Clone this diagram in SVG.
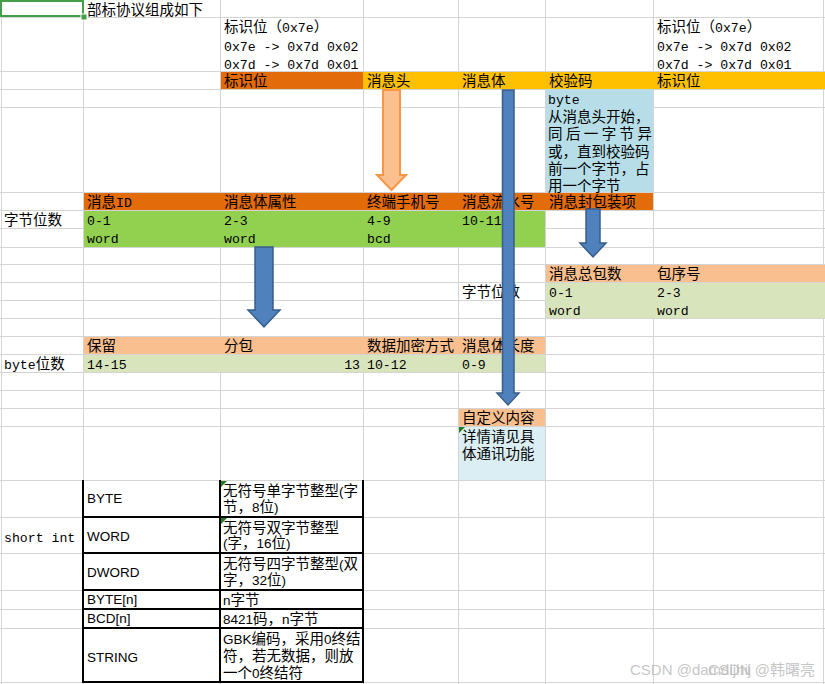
<svg xmlns="http://www.w3.org/2000/svg" width="825" height="684" viewBox="0 0 825 684">
<style>
.g{stroke:#D4D4D4;stroke-width:1;fill:none}
.c{font-family:"Noto Sans CJK SC","Liberation Sans",sans-serif;font-size:14.5px;fill:#000}
.m{font-family:"Liberation Mono","Noto Sans CJK SC",monospace;font-size:13.2px;fill:#000}
.a{font-family:"Liberation Sans","Noto Sans CJK SC",sans-serif;font-size:13.5px;fill:#000}
.b{stroke:#000;stroke-width:2;fill:none}
.ba{fill:#4F81BD;stroke:#385D8A;stroke-width:1.5}
.oa{fill:#FAC090;stroke:#F79646;stroke-width:2}
.mk{fill:#1E7B1E}
.wm{font-family:"Liberation Sans","Noto Sans CJK SC",sans-serif;font-size:15px;fill:#BBBBBB;fill-opacity:0.85}
</style>
<rect x="0" y="0" width="825" height="684" fill="#FFFFFF"/>
<g id="grid">
<path class="g" d="M1.5,0V684M83.5,0V684M220.5,0V684M363.5,0V684M458.5,0V684M545.5,0V684M653.5,0V684M823.5,0V684"/>
<path class="g" d="M0,17.5H825M0,71.5H825M0,89.5H825M0,107.5H825M0,192.5H825M0,210.5H825M0,228.5H825M0,247.5H825M0,264.5H825M0,282.5H825M0,300.5H825M0,318.5H825M0,336.5H825M0,354.5H825M0,372.5H825M0,390.5H825M0,408.5H825M0,426.5H825M0,480.5H825M0,517.5H825M0,553.5H825M0,590.5H825M0,609.5H825M0,628.5H825M0,682.5H825"/>
</g>
<g id="selection">
<rect x="1" y="1" width="82" height="15" fill="none" stroke="#43A047" stroke-width="2"/>
<rect x="81" y="14" width="6" height="6" fill="#43A047" stroke="#FFFFFF" stroke-width="1"/>
</g>
<g id="title"><text class="c" x="87" y="15">部标协议组成如下</text></g>
<g id="flag-note-left">
<text class="c" x="224" y="32">标识位（<tspan class="m">0x7e</tspan>）</text>
<text class="m" x="224" y="51">0x7e -&gt; 0x7d 0x02</text>
<text class="m" x="224" y="69">0x7d -&gt; 0x7d 0x01</text>
</g>
<g id="flag-note-right">
<text class="c" x="657" y="32">标识位（<tspan class="m">0x7e</tspan>）</text>
<text class="m" x="657" y="51">0x7e -&gt; 0x7d 0x02</text>
<text class="m" x="657" y="69">0x7d -&gt; 0x7d 0x01</text>
</g>
<g id="frame-row">
<rect x="221" y="72" width="142" height="17" fill="#E26B0A"/>
<rect x="363" y="72" width="462" height="17" fill="#FFC000"/>
<text class="c" x="224" y="86">标识位</text>
<text class="c" x="367" y="86">消息头</text>
<text class="c" x="462" y="86">消息体</text>
<text class="c" x="549" y="86">校验码</text>
<text class="c" x="657" y="86">标识位</text>
</g>
<g id="checksum-note">
<rect x="546" y="89" width="107" height="103" fill="#B7DEE8"/>
<text class="m" x="548" y="104">byte</text>
<text class="c" x="548" y="122">从消息头开始，</text>
<text class="c" x="548" y="139" textLength="104" lengthAdjust="spacing">同后一字节异</text>
<text class="c" x="548" y="157">或，直到校验码</text>
<text class="c" x="548" y="174">前一个字节，占</text>
<text class="c" x="548" y="191">用一个字节</text>
</g>
<g id="header-fields">
<rect x="84" y="193" width="569" height="17" fill="#E26B0A"/>
<rect x="84" y="211" width="461" height="36" fill="#92D050"/>
<text class="c" x="87" y="207">消息<tspan class="m">ID</tspan></text>
<text class="c" x="224" y="207">消息体属性</text>
<text class="c" x="367" y="207">终端手机号</text>
<text class="c" x="462" y="207">消息流水号</text>
<text class="c" x="549" y="207">消息封包装项</text>
<text class="c" x="4" y="225">字节位数</text>
<text class="m" x="87" y="225">0-1</text>
<text class="m" x="224" y="225">2-3</text>
<text class="m" x="367" y="225">4-9</text>
<text class="m" x="462" y="225">10-11</text>
<text class="m" x="87" y="243">word</text>
<text class="m" x="224" y="243">word</text>
<text class="m" x="367" y="243">bcd</text>
</g>
<g id="package-fields">
<rect x="546" y="265" width="279" height="17" fill="#FABF8F"/>
<rect x="546" y="283" width="279" height="35" fill="#D8E4BC"/>
<text class="c" x="549" y="279">消息总包数</text>
<text class="c" x="657" y="279">包序号</text>
<text class="c" x="462" y="297">字节位数</text>
<text class="m" x="549" y="297">0-1</text>
<text class="m" x="657" y="297">2-3</text>
<text class="m" x="549" y="315">word</text>
<text class="m" x="657" y="315">word</text>
</g>
<g id="body-attr-fields">
<rect x="84" y="337" width="461" height="17" fill="#FABF8F"/>
<rect x="84" y="355" width="461" height="17" fill="#D8E4BC"/>
<text class="c" x="87" y="351">保留</text>
<text class="c" x="224" y="351">分包</text>
<text class="c" x="367" y="351">数据加密方式</text>
<text class="c" x="462" y="351">消息体长度</text>
<text class="c" x="4" y="369"><tspan class="m">byte</tspan>位数</text>
<text class="m" x="87" y="369">14-15</text>
<text class="m" x="360" y="369" text-anchor="end">13</text>
<text class="m" x="367" y="369">10-12</text>
<text class="m" x="462" y="369">0-9</text>
</g>
<g id="custom-content">
<rect x="459" y="409" width="86" height="17" fill="#FABF8F"/>
<rect x="459" y="427" width="86" height="53" fill="#DAEEF3"/>
<polygon class="mk" points="459,427 465,427 459,433"/>
<text class="c" x="462" y="423">自定义内容</text>
<text class="c" x="462" y="442">详情请见具</text>
<text class="c" x="462" y="459">体通讯功能</text>
</g>
<g id="type-table">
<polygon class="mk" points="221,481 227,481 221,487"/>
<polygon class="mk" points="221,518 227,518 221,524"/>
<path class="b" d="M83,480V683M220,480V683M363,480V683M82,517H364M82,553H364M82,590H364M82,609H364M82,628H364M82,682H364"/>
<text class="m" x="4" y="542">short int</text>
<text class="a" x="87" y="503">BYTE</text>
<text class="a" x="87" y="541">WORD</text>
<text class="a" x="87" y="577">DWORD</text>
<text class="a" x="87" y="604">BYTE[n]</text>
<text class="a" x="87" y="623">BCD[n]</text>
<text class="a" x="87" y="662">STRING</text>
<text class="c" x="223" y="496">无符号单字节整型<tspan class="a">(</tspan>字</text>
<text class="c" x="223" y="512">节，<tspan class="a">8</tspan>位<tspan class="a">)</tspan></text>
<text class="c" x="223" y="533">无符号双字节整型</text>
<text class="c" x="223" y="548"><tspan class="a">(</tspan>字，<tspan class="a">16</tspan>位<tspan class="a">)</tspan></text>
<text class="c" x="223" y="569">无符号四字节整型<tspan class="a">(</tspan>双</text>
<text class="c" x="223" y="585">字，<tspan class="a">32</tspan>位<tspan class="a">)</tspan></text>
<text class="c" x="223" y="605"><tspan class="a">n</tspan>字节</text>
<text class="c" x="223" y="624"><tspan class="a">8421</tspan>码，<tspan class="a">n</tspan>字节</text>
<text class="c" x="223" y="644"><tspan class="a">GBK</tspan>编码，采用<tspan class="a">0</tspan>终结</text>
<text class="c" x="223" y="661">符，若无数据，则放</text>
<text class="c" x="223" y="678">一个<tspan class="a">0</tspan>终结符</text>
</g>
<g id="connectors">
<path class="oa" d="M383,90H400V175H406L391.5,190L377,175H383Z"/>
<path class="ba" d="M502.5,90H514V393H519L508,405L497,393H502.5Z"/>
<path class="ba" d="M255,247H273V310H280L264,327L248,310H255Z"/>
<path class="ba" d="M586,209H600V243H606L593,257L580,243H586Z"/>
</g>
<g id="watermark">
<text class="wm" x="630" y="675">CSDN  @damdijhij</text>
<text class="wm" x="815" y="675" text-anchor="end">CSDN @韩曙亮</text>
</g>
</svg>
